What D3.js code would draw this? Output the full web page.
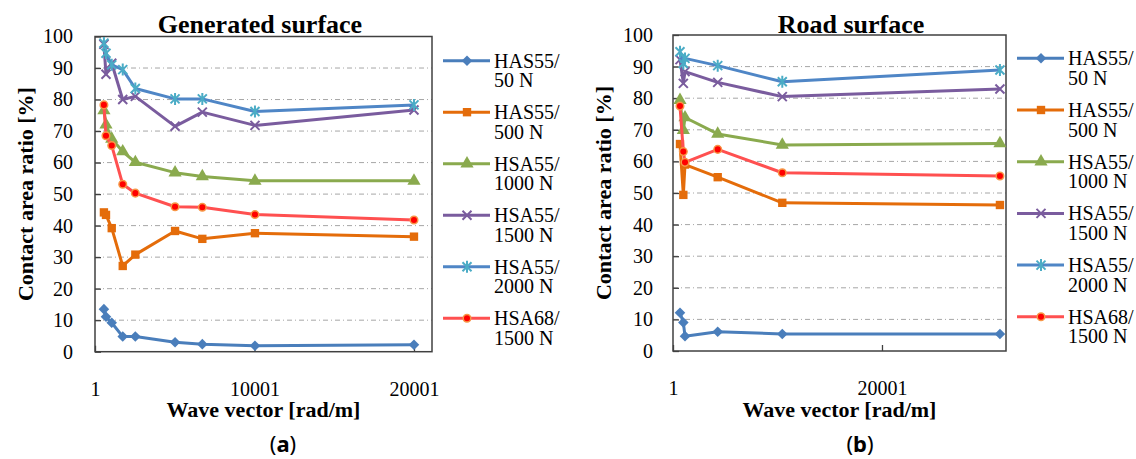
<!DOCTYPE html>
<html>
<head>
<meta charset="utf-8">
<script src="https://cdn.jsdelivr.net/npm/d3@7"></script>
<style>
  body { margin: 0; background: #fff; }
  svg text { font-family: "Liberation Serif", Tinos, "Times New Roman", "DejaVu Serif", serif; fill: #000; }
</style>
</head>
<body>
<script>
// legend / series names
var seriesLabels = [["HAS55/", "50 N"], ["HAS55/", "500 N"], ["HSA55/", "1000 N"],
                    ["HSA55/", "1500 N"], ["HSA55/", "2000 N"], ["HSA68/", "1500 N"]];
var yTicks = [0, 10, 20, 30, 40, 50, 60, 70, 80, 90, 100];

// (a) generated surface
var waveA = [560, 690, 1050, 1740, 2530, 5020, 6730, 10030, 20000];
var a_has55_50   = [13.5, 11.1, 9.2, 4.8, 4.8, 3.0, 2.4, 1.9, 2.2];
var a_has55_500  = [44.2, 43.4, 39.2, 27.2, 30.8, 38.3, 35.8, 37.6, 36.5];
var a_hsa55_1000 = [76.5, 72.0, 67.5, 63.5, 60.1, 56.8, 55.6, 54.2, 54.2];
var a_hsa55_1500 = [97.5, 88.0, 91.5, 80.0, 81.0, 71.5, 76.0, 71.8, 76.7];
var a_hsa55_2000 = [97.9, 94.7, 91.0, 89.5, 83.5, 80.2, 80.2, 76.2, 78.3];
var a_hsa68_1500 = [78.3, 68.5, 65.4, 53.1, 50.3, 46.0, 45.8, 43.5, 41.8];
var xTicksA = [1, 10001, 20001];

// (b) road surface
var waveB = [670, 990, 1150, 4280, 10460, 31290];
var b_has55_50   = [12.1, 9.0, 4.7, 6.1, 5.4, 5.4];
var b_has55_500  = [65.5, 49.4, 59.0, 55.0, 46.9, 46.2];
var b_hsa55_1000 = [79.4, 69.9, 73.9, 68.7, 65.2, 65.7];
var b_hsa55_1500 = [92.2, 84.7, 88.4, 85.0, 80.5, 82.9];
var b_hsa55_2000 = [94.7, 91.0, 92.6, 90.3, 85.2, 88.9];
var b_hsa68_1500 = [77.5, 63.1, 59.7, 63.8, 56.4, 55.4];
var xTicksB = [1, 20001];

var serif = '"Liberation Serif", Tinos, "Times New Roman", "DejaVu Serif", serif';

var styles = [
  {line: "#4a7ebb", fill: "#4a7ebb", stroke: "none", shape: "diamond"},
  {line: "#e46c0a", fill: "#e46c0a", stroke: "none", shape: "square"},
  {line: "#8aaa4e", fill: "#8aaa4e", stroke: "none", shape: "triangle"},
  {line: "#7a5c9e", fill: "none", stroke: "#7a5c9e", shape: "x"},
  {line: "#4f86c6", fill: "none", stroke: "#4bacc6", shape: "star"},
  {line: "#ff5050", fill: "#ff0000", stroke: "#f79646", shape: "circle"}
];

var svg = d3.select("body").append("svg")
    .attr("width", 1136)
    .attr("height", 459);

function marker(g, st, x, y) {
  var m = g.append("path").attr("transform", "translate(" + x + "," + y + ")");
  if (st.shape == "diamond") {
    m.attr("d", d3.symbol(d3.symbolSquare, 56)()).attr("transform", "translate(" + x + "," + y + ") rotate(45)");
  } else if (st.shape == "square") {
    m.attr("d", d3.symbol(d3.symbolSquare, 70)());
  } else if (st.shape == "triangle") {
    m.attr("d", d3.symbol(d3.symbolTriangle, 75)());
  } else if (st.shape == "circle") {
    m.attr("d", d3.symbol(d3.symbolCircle, 45)());
  } else if (st.shape == "x") {
    m.attr("d", "M-4.5,-4.5L4.5,4.5M-4.5,4.5L4.5,-4.5");
  } else {
    m.attr("d", "M-4.5,-4.5L4.5,4.5M-4.5,4.5L4.5,-4.5M0,-6L0,6");
  }
  m.attr("fill", st.fill)
    .attr("stroke", st.stroke)
    .attr("stroke-width", st.shape == "circle" ? 1.5 : 2);
}

function drawChart(cfg) {
  var x = d3.scaleLinear().domain(cfg.xDomain).range([cfg.left, cfg.right]);
  var y = d3.scaleLinear().domain([0, 100]).range([cfg.bottom, cfg.top]);
  var g = svg.append("g");

  // gridlines
  g.append("g").selectAll("line")
    .data(yTicks.slice(1, -1))
    .enter().append("line")
    .attr("x1", cfg.left).attr("x2", cfg.right)
    .attr("y1", d => y(d)).attr("y2", d => y(d))
    .attr("stroke", "#a6a6a6")
    .attr("stroke-dasharray", "5,3,1,3");

  var yAxis = g.append("g")
    .attr("transform", "translate(" + cfg.left + ",0)")
    .call(d3.axisLeft(y).tickValues(yTicks).tickSizeInner(-6).tickSizeOuter(0).tickPadding(cfg.yPad));
  var xAxis = g.append("g")
    .attr("transform", "translate(0," + cfg.bottom + ")")
    .call(d3.axisBottom(x).tickValues(cfg.xTicks).tickFormat(d3.format("d")).tickSizeInner(-6).tickSizeOuter(0).tickPadding(30));
  [yAxis, xAxis].forEach(function(a) {
    a.attr("font-family", serif).attr("font-size", 20);
    a.select(".domain").remove();
    a.selectAll(".tick line").attr("stroke", "#404040").attr("stroke-width", 1.3);
    a.selectAll(".tick text").attr("fill", "#000");
  });

  // frame
  g.append("rect")
    .attr("x", cfg.left).attr("y", cfg.top)
    .attr("width", cfg.right - cfg.left).attr("height", cfg.bottom - cfg.top)
    .attr("fill", "none").attr("stroke", "#404040").attr("stroke-width", 1.5);

  var line = d3.line().x(d => x(d[0])).y(d => y(d[1]));

  cfg.series.forEach(function(vals, i) {
    var st = styles[i];
    var pts = cfg.xs.map((v, j) => [v, vals[j]]);
    g.append("path").datum(pts)
      .attr("d", line)
      .attr("fill", "none")
      .attr("stroke", st.line)
      .attr("stroke-width", 3)
      .attr("stroke-linejoin", "round");
    pts.forEach(p => marker(g, st, x(p[0]), y(p[1])));
  });

  // legend
  seriesLabels.forEach(function(lab, i) {
    var ly = cfg.legY + i * cfg.legStep;
    var st = styles[i];
    g.append("line")
      .attr("x1", cfg.legX).attr("x2", cfg.legX + 47)
      .attr("y1", ly).attr("y2", ly)
      .attr("stroke", st.line).attr("stroke-width", 3);
    marker(g, st, cfg.legX + 24, ly);
    var t = g.append("text")
      .attr("x", cfg.legX + 51).attr("y", ly + 7)
      .style("font-size", "20px");
    t.append("tspan").text(lab[0]);
    t.append("tspan").attr("x", cfg.legX + 51).attr("dy", 19.5).text(lab[1]);
  });

  // titles
  g.append("text")
    .attr("x", cfg.titleX).attr("y", 33)
    .attr("text-anchor", "middle")
    .style("font-size", "26px").style("font-weight", "bold")
    .text(cfg.title);
  g.append("text")
    .attr("x", (cfg.left + cfg.right) / 2).attr("y", 417)
    .attr("text-anchor", "middle")
    .style("font-size", "22px").style("font-weight", "bold")
    .text("Wave vector [rad/m]");
  g.append("text")
    .attr("transform", "translate(" + (cfg.left - 62) + "," + ((cfg.top + cfg.bottom) / 2) + ") rotate(-90)")
    .attr("text-anchor", "middle")
    .style("font-size", "22px").style("font-weight", "bold")
    .text("Contact area ratio [%]");
  var cap = g.append("text")
    .attr("x", cfg.capX).attr("y", 452)
    .attr("text-anchor", "middle")
    .style("font-family", "Noto Sans").style("font-size", "22px");
  cap.append("tspan").text("(");
  cap.append("tspan").style("font-weight", "bold").text(cfg.cap);
  cap.append("tspan").text(")");
}

drawChart({
  left: 95, right: 432, top: 36.5, bottom: 351.7,
  xDomain: [1, 21130], xs: waveA, xTicks: xTicksA, yPad: 22,
  series: [a_has55_50, a_has55_500, a_hsa55_1000, a_hsa55_1500, a_hsa55_2000, a_hsa68_1500],
  legX: 443, legY: 60.7, legStep: 51.5,
  title: "Generated surface", titleX: 260, cap: "a", capX: 283
});

drawChart({
  left: 673, right: 1006, top: 35, bottom: 351,
  xDomain: [1, 31870], xs: waveB, xTicks: xTicksB, yPad: 20,
  series: [b_has55_50, b_has55_500, b_hsa55_1000, b_hsa55_1500, b_hsa55_2000, b_hsa68_1500],
  legX: 1017, legY: 58.3, legStep: 51.7,
  title: "Road surface", titleX: 851, cap: "b", capX: 860
});
</script>
</body>
</html>
